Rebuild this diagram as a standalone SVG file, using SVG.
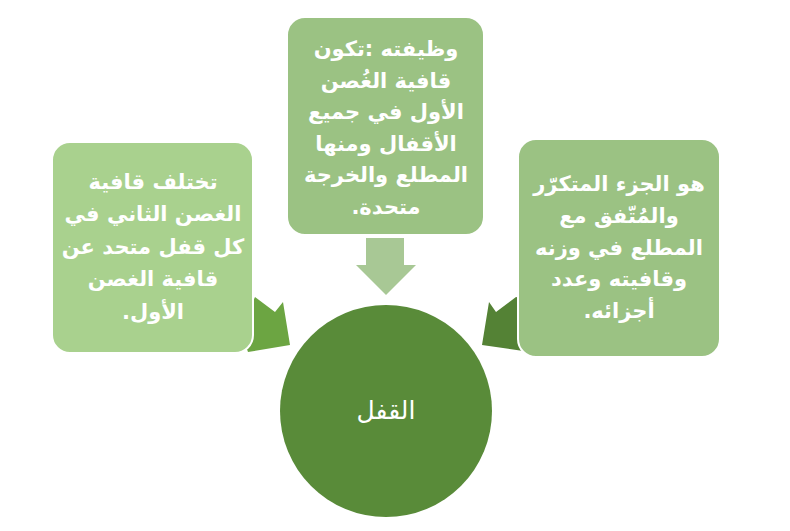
<svg xmlns="http://www.w3.org/2000/svg" width="790" height="531" viewBox="0 0 790 531">
<style>
.box{stroke:#ffffff;stroke-width:2}
.t{font-family:"DejaVu Sans",sans-serif;font-size:21px;font-weight:bold;fill:#ffffff;text-anchor:middle;direction:rtl}
.c{font-family:"DejaVu Sans",sans-serif;font-size:25px;fill:#ffffff;text-anchor:middle;direction:rtl}
</style>
<rect width="790" height="531" fill="#ffffff"/>
<g id="connectors">
<polygon points="255,297 275,312 283,302 290,345 248,352 240,330" fill="#6ca542"/>
<polygon points="489,302 496,312 516,297 530,300 530,352 482,345" fill="#548235"/>
<polygon points="366,238 404,238 404,265 416,265 386,295 356,265 366,265" fill="#a8c895"/>
</g>
<g id="node-center">
<circle cx="386" cy="411" r="106" fill="#598b39"/>
<text class="c" x="386" y="419">القفل</text>
</g>
<g id="node-top">
<rect class="box" x="287" y="17" width="197" height="218" rx="18" fill="#9bc283"/>
<text class="t" x="386" y="56">وظيفته :تكون</text>
<text class="t" x="386" y="88">قافية الغُصن</text>
<text class="t" x="386" y="119">الأول في جميع</text>
<text class="t" x="386" y="151">الأقفال ومنها</text>
<text class="t" x="386" y="182">المطلع والخرجة</text>
<text class="t" x="386" y="214">متحدة.</text>
</g>
<g id="node-left">
<rect class="box" x="52" y="142" width="201" height="211" rx="18" fill="#a9d18e"/>
<text class="t" x="153" y="189">تختلف قافية</text>
<text class="t" x="153" y="221">الغصن الثاني في</text>
<text class="t" x="153" y="254">كل قفل متحد عن</text>
<text class="t" x="153" y="286">قافية الغصن</text>
<text class="t" x="153" y="319">الأول.</text>
</g>
<g id="node-right">
<rect class="box" x="518" y="139" width="202" height="218" rx="18" fill="#9bc283"/>
<text class="t" x="619" y="191">هو الجزء المتكرّر</text>
<text class="t" x="619" y="223">والمُتّفق مع</text>
<text class="t" x="619" y="255">المطلع في وزنه</text>
<text class="t" x="619" y="286">وقافيته وعدد</text>
<text class="t" x="619" y="318">أجزائه.</text>
</g>
</svg>
